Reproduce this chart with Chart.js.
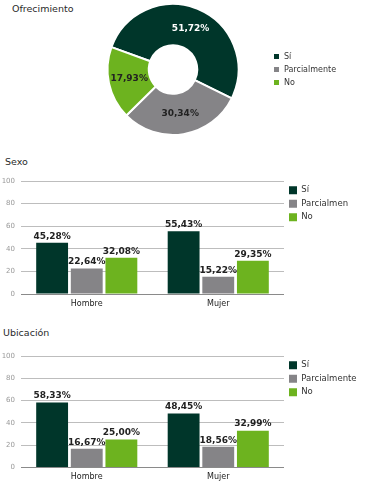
<!DOCTYPE html>
<html>
<head>
<meta charset="utf-8">
<script src="https://cdn.jsdelivr.net/npm/chart.js@4/dist/chart.umd.min.js"></script>
<style>
  html,body{margin:0;padding:0;background:#fff;}
  body{width:368px;height:500px;position:relative;overflow:hidden;font-family:"DejaVu Sans",sans-serif;}
  .ttl{position:absolute;font-size:9.5px;color:#2a2a2a;white-space:nowrap;}
  .box{position:absolute;}
</style>
</head>
<body>
<div class="ttl" style="left:12px;top:3px;">Ofrecimiento</div>
<div class="box" style="left:0;top:0;width:340px;height:150px;"><canvas id="c1"></canvas></div>
<div class="ttl" style="left:5px;top:156px;">Sexo</div>
<div class="box" style="left:0;top:170px;width:348px;height:150px;"><canvas id="c2"></canvas></div>
<div class="ttl" style="left:3px;top:327px;">Ubicación</div>
<div class="box" style="left:0;top:345px;width:360px;height:150px;"><canvas id="c3"></canvas></div>
<script>
// ---- data ----
const seriesNames = ["Sí", "Parcialmente", "No"];
const seriesColors = ["#00362a", "#858487", "#6db31f"];
const ofrecimientoValues = [51.72, 30.34, 17.93];
const categories = ["Hombre", "Mujer"];
const sexoSi = [45.28, 55.43];
const sexoParcial = [22.64, 15.22];
const sexoNo = [32.08, 29.35];
const ubicSi = [58.33, 48.45];
const ubicParcial = [16.67, 18.56];
const ubicNo = [25.00, 32.99];
const yTicks = [0, 20, 40, 60, 80, 100];

const FONT = "'DejaVu Sans', sans-serif";
const fmt = v => v.toFixed(2).replace('.', ',') + '%';

const doughnutLabels = {
  id: 'doughnutLabels',
  afterDatasetsDraw(chart) {
    const ctx = chart.ctx;
    const meta = chart.getDatasetMeta(0);
    const ds = chart.data.datasets[0];
    ctx.save();
    ctx.font = "bold 9px " + FONT;
    ctx.textAlign = 'center';
    ctx.textBaseline = 'middle';
    meta.data.forEach((el, i) => {
      const p = el.tooltipPosition();
      ctx.fillStyle = i === 0 ? '#ffffff' : '#222222';
      ctx.fillText(fmt(ds.data[i]), p.x, p.y);
    });
    ctx.restore();
  }
};

const barLabels = {
  id: 'barLabels',
  afterDatasetsDraw(chart) {
    const ctx = chart.ctx;
    ctx.save();
    ctx.font = "bold 9px " + FONT;
    ctx.textAlign = 'center';
    ctx.textBaseline = 'bottom';
    ctx.fillStyle = '#222';
    chart.data.datasets.forEach((ds, di) => {
      chart.getDatasetMeta(di).data.forEach((el, i) => {
        ctx.fillText(fmt(ds.data[i]), el.x, el.y - 2);
      });
    });
    ctx.restore();
  }
};

new Chart(document.getElementById('c1'), {
  type: 'doughnut',
  data: {
    labels: seriesNames,
    datasets: [{
      data: ofrecimientoValues,
      backgroundColor: seriesColors,
      borderColor: '#ffffff',
      borderWidth: 2
    }]
  },
  options: {
    responsive: true,
    maintainAspectRatio: false,
    animation: false,
    rotation: -70,
    cutout: '37%',
    layout: { padding: { left: 78, top: 3, bottom: 14, right: 0 } },
    plugins: {
      tooltip: { enabled: false },
      legend: {
        position: 'right',
        align: 'center',
        maxWidth: 72,
        labels: {
          boxWidth: 7, boxHeight: 7, padding: 5,
          color: '#333',
          font: { family: FONT, size: 8 }
        }
      }
    }
  },
  plugins: [doughnutLabels]
});

function barChart(id, si, parcial, no, legendMax, padBottom) {
  return new Chart(document.getElementById(id), {
    type: 'bar',
    data: {
      labels: categories,
      datasets: [
        { label: seriesNames[0], data: si, backgroundColor: seriesColors[0] },
        { label: seriesNames[1], data: parcial, backgroundColor: seriesColors[1] },
        { label: seriesNames[2], data: no, backgroundColor: seriesColors[2] }
      ]
    },
    options: {
      responsive: true,
      maintainAspectRatio: false,
      animation: false,
      categoryPercentage: 0.79,
      barPercentage: 0.92,
      layout: { padding: { left: 0, top: 11, right: 0, bottom: padBottom } },
      scales: {
        x: {
          grid: { display: false, drawTicks: false },
          border: { display: false },
          ticks: { color: '#222', padding: 5, font: { family: FONT, size: 8 } }
        },
        y: {
          min: 0, max: 100,
          afterFit(scale) { scale.width = 21; },
          afterBuildTicks(scale) { scale.ticks = yTicks.map(v => ({ value: v })); },
          border: { display: false },
          grid: {
            drawTicks: false,
            color: ctx => ctx.tick && ctx.tick.value === 0 ? '#8a8a8a' : '#bdbdbd',
            lineWidth: 1
          },
          ticks: { color: '#999', padding: 6, font: { family: FONT, size: 7 } }
        }
      },
      plugins: {
        tooltip: { enabled: false },
        legend: {
          position: 'right',
          align: 'start',
          maxWidth: legendMax,
          labels: {
            boxWidth: 8, boxHeight: 8, padding: 5,
            color: '#333',
            font: { family: FONT, size: 8.5 }
          }
        }
      }
    },
    plugins: [barLabels]
  });
}

barChart('c2', sexoSi, sexoParcial, sexoNo, 64, 6.4);
barChart('c3', ubicSi, ubicParcial, ubicNo, 76, 8);
</script>
</body>
</html>
